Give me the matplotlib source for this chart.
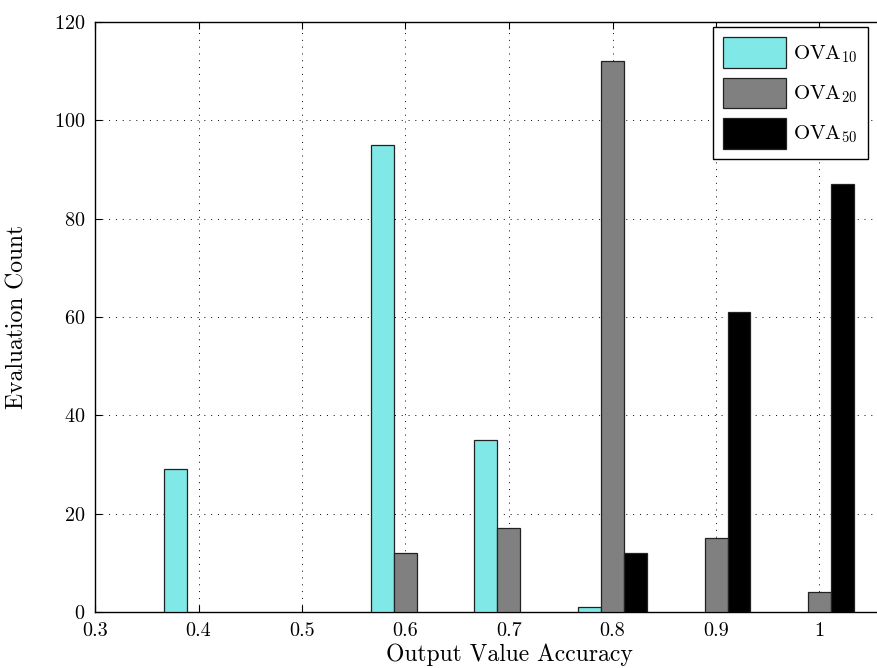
import numpy as np
import matplotlib
matplotlib.use("Agg")
import matplotlib.pyplot as plt
from matplotlib.ticker import FuncFormatter

plt.rcParams['font.family'] = 'cmr10'
plt.rcParams['mathtext.fontset'] = 'cm'
plt.rcParams['axes.formatter.use_mathtext'] = True

# accuracy bins and evaluation counts per output value setting
bins = [0.4, 0.5, 0.6, 0.7, 0.8, 0.9, 1.0]
ova10 = [29, 0, 95, 35, 1, 0, 0]
ova20 = [0, 0, 12, 17, 112, 15, 4]
ova50 = [0, 0, 0, 0, 12, 61, 87]
labels = [r'OVA$_{10}$', r'OVA$_{20}$', r'OVA$_{50}$']
colors = ['#80e8e6', '#808080', '#000000']

fig = plt.figure(figsize=(8.77, 6.68), dpi=100)
ax = fig.add_axes([95/877, 56/668, 828/877, 590/668])

x = np.array(bins)
w = 0.1 * 2/3 / 3
handles = []
for k, (vals, lab, col) in enumerate(zip([ova10, ova20, ova50], labels, colors)):
    lw = [0.9 if v > 0 else 0 for v in vals]
    h = ax.bar(x + (k - 1)*w, vals, width=w, color=col, edgecolor='#222222',
               linewidth=lw, label=lab, zorder=3)
    handles.append(h)

ax.set_xlim(0.3, 1.1)
ax.set_ylim(0, 120)
ax.set_xticks([0.3, 0.4, 0.5, 0.6, 0.7, 0.8, 0.9, 1.0])
ax.set_yticks([0, 20, 40, 60, 80, 100, 120])
ax.xaxis.set_major_formatter(FuncFormatter(lambda v, p: '%g' % round(v, 2)))
ax.tick_params(direction='in', length=5, width=0.8, top=True, right=True,
               labelsize=14.5, pad=7)
ax.grid(True, color='black', linestyle=(0, (1, 6)), linewidth=0.7, zorder=0)
ax.set_axisbelow(True)
for s in ax.spines.values():
    s.set_linewidth(1.0)

ax.set_xlabel('Output Value Accuracy', fontsize=17, labelpad=3)
ax.set_ylabel('Evaluation Count', fontsize=17, labelpad=18)

leg = fig.legend(handles=handles, labels=labels, loc='upper left',
                 bbox_to_anchor=(713/877, 1 - 27/668), borderaxespad=0,
                 fontsize=15, handlelength=3.0, handleheight=1.9,
                 handletextpad=0.35, labelspacing=0.45, borderpad=0.5,
                 fancybox=False, framealpha=1, edgecolor='black')
leg.get_frame().set_linewidth(1.0)
for p in leg.get_patches():
    p.set_linewidth(0.9)

fig.savefig('out.png', dpi=100)
